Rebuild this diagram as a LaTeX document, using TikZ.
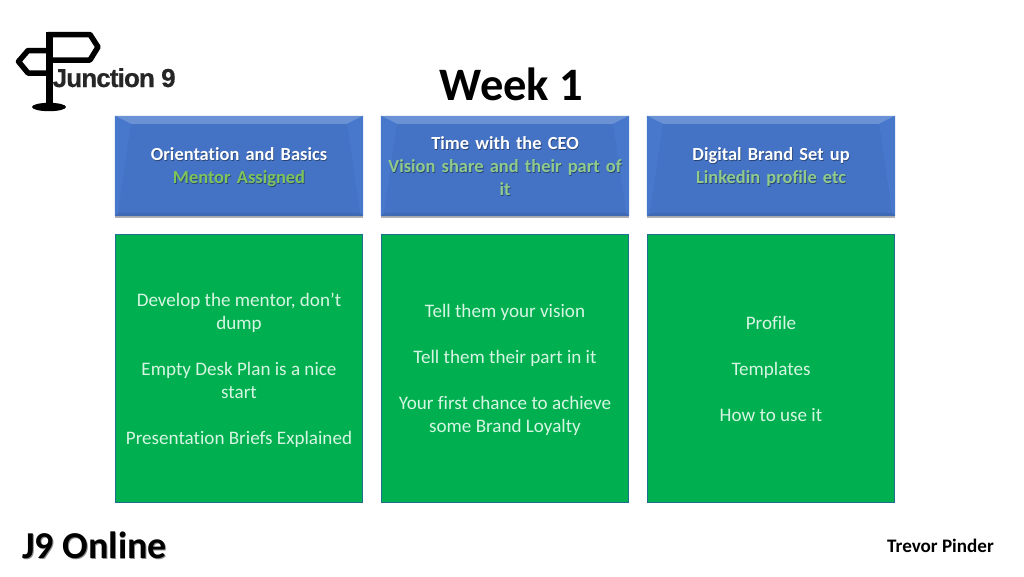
\documentclass[tikz,border=0pt]{standalone}
\usepackage{fontspec}
\setmainfont[Ligatures=NoCommon]{Carlito}
\newfontfamily\logofont[LetterSpace=-3.4,FakeBold=.6]{Liberation Sans Bold}
\usetikzlibrary{shadows,calc}
\definecolor{hdrblue}{HTML}{4472C4}
\definecolor{hdrlight}{HTML}{6C92D6}
\definecolor{hdrdark}{HTML}{3F69B5}
\definecolor{hdrleft}{HTML}{4878CC}
\definecolor{mentorgreen}{HTML}{7EC45C}
\definecolor{visiongreen}{HTML}{90CB8C}
\definecolor{boxgreen}{HTML}{00B050}
\definecolor{boxedge}{HTML}{1F6F8F}
\definecolor{bodyink}{HTML}{D6F5E2}
\tikzset{
  hdrbox/.style={minimum width=248pt,minimum height=100pt,inner sep=0pt,fill=hdrblue,align=center,
    drop shadow={shadow xshift=0pt,shadow yshift=-2pt,opacity=.3,fill=black}},
  hdrtext/.style={align=center,inner sep=0pt,text width=240pt,font=\fontsize{18.45pt}{23pt}\selectfont\bfseries},
  hdrshadow/.style={hdrtext,text=black,opacity=.4},
  bodybox/.style={minimum width=247.5pt,minimum height=268pt,inner sep=0pt,fill=boxgreen,draw=boxedge,line width=.7pt},
  bodytext/.style={align=center,inner sep=0pt,text=bodyink,font=\fontsize{19.1pt}{23pt}\selectfont},
  signline/.style={draw=black,line width=5.5pt,line join=round,fill=none},
  titletext/.style={font=\fontsize{46.5pt}{50pt}\selectfont\bfseries,text=black,inner sep=0pt},
  logotext/.style={font=\logofont\fontsize{26pt}{28pt}\selectfont,text=black!85,inner sep=0pt,anchor=base west},
  brandtext/.style={font=\fontsize{38pt}{40pt}\selectfont\bfseries,inner sep=0pt,anchor=base west},
  authortext/.style={font=\fontsize{19.1pt}{22pt}\selectfont\bfseries,text=black,inner sep=0pt,anchor=base east}
}
\newcommand{\bevel}[1]{%
  \fill[hdrlight] (#1.north west) -- (#1.north east) -- ++(-16pt,-8pt) -- ($(#1.north west)+(16pt,-8pt)$) -- cycle;
  \fill[hdrleft] (#1.north west) -- ++(16pt,-8pt) -- ($(#1.south west)+(3pt,3pt)$) -- (#1.south west) -- cycle;
  \fill[hdrleft] (#1.north east) -- ++(-16pt,-8pt) -- ($(#1.south east)+(-3pt,3pt)$) -- (#1.south east) -- cycle;
  \fill[hdrdark] (#1.south west) -- (#1.south east) -- ++(-3pt,3pt) -- ($(#1.south west)+(3pt,3pt)$) -- cycle;
}
\begin{document}
\begin{tikzpicture}[x=1pt,y=-1pt]
\useasboundingbox (0,0) rectangle (1024,576);
\fill[white] (0,0) rectangle (1024,576);

% logo
\draw[signline] (48,34.5) -- (90,34.5) -- (98,47) -- (90,60) -- (48,60);
\draw[signline] (48,50.5) -- (28,50.5) -- (18.5,61.5) -- (28,73) -- (48,73);
\fill[black] (45.7,31.7) rectangle (52.5,107);
\fill[black] (49,107) ellipse [x radius=17pt,y radius=4.2pt];
\node[logotext] (logo) at (52.5,87) {Junction 9};

\node[titletext] (title) at (511.5,84) {Week 1};

% header boxes
\node[hdrbox] (h1) at (239,166) {};
\node[hdrbox] (h2) at (505,166) {};
\node[hdrbox] (h3) at (771,166) {};
\bevel{h1}\bevel{h2}\bevel{h3}

\node[hdrshadow] (h1s) at (239.7,167.7) {Orientation and Basics\\Mentor Assigned};
\node[hdrtext,text=white] (h1t) at (239,167) {Orientation and Basics\\\textcolor{mentorgreen}{Mentor Assigned}};
\node[hdrshadow] (h2s) at (505.7,166.7) {Time with the CEO\\Vision share and their part of\\it};
\node[hdrtext,text=white] (h2t) at (505,166) {Time with the CEO\\\textcolor{visiongreen}{Vision share and their part of}\\\textcolor{visiongreen}{it}};
\node[hdrshadow] (h3s) at (771.7,167.7) {Digital Brand Set up\\Linkedin profile etc};
\node[hdrtext,text=white] (h3t) at (771,167) {Digital Brand Set up\\\textcolor{visiongreen}{Linkedin profile etc}};

% body boxes
\node[bodybox] (b1) at (239,368) {};
\node[bodybox] (b2) at (505,368) {};
\node[bodybox] (b3) at (771,368) {};
\node[bodytext] (b1t) at (239,370) {Develop the mentor, don’t\\dump\\[23pt]Empty Desk Plan is a nice\\start\\[23pt]Presentation Briefs Explained};
\node[bodytext] (b2t) at (505,370) {Tell them your vision\\[23pt]Tell them their part in it\\[23pt]Your first chance to achieve\\some Brand Loyalty};
\node[bodytext] (b3t) at (771,368.7) {Profile\\[23pt]Templates\\[23pt]How to use it};

% footer
\node[brandtext,text=black!45] (brands) at (22.9,559.1) {J9 Online};
\node[brandtext,text=black] (brand) at (22,558) {J9 Online};
\node[authortext] (author) at (994,552.5) {Trevor Pinder};
\end{tikzpicture}
\end{document}
